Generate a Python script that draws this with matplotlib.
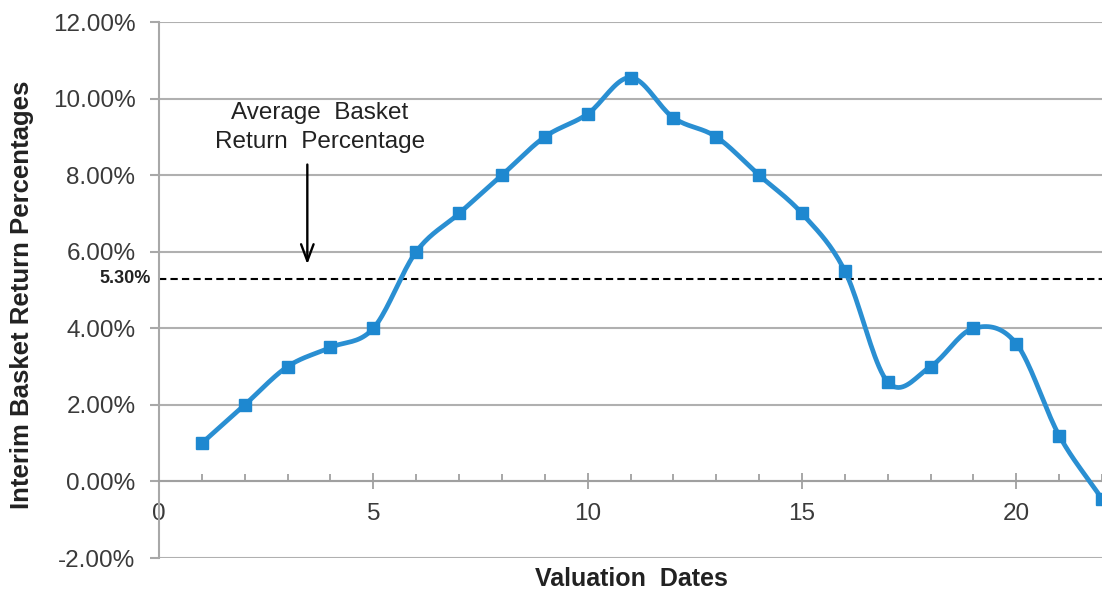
import numpy as np
import matplotlib
matplotlib.use("Agg")
import matplotlib.pyplot as plt
from matplotlib.ticker import FuncFormatter, MultipleLocator

plt.rcParams['font.family'] = ['Liberation Sans', 'DejaVu Sans']

dates = [1, 2, 3, 4, 5, 6, 7, 8, 9, 10, 11, 12, 13, 14, 15, 16, 17, 18, 19, 20, 21, 22]
returns = [1.0, 2.0, 3.0, 3.5, 4.0, 6.0, 7.0, 8.0, 9.0, 9.6, 10.55, 9.5, 9.0, 8.0,
           7.0, 5.5, 2.6, 3.0, 4.0, 3.6, 1.2, -0.45]
average = 5.30
y_ticks = [-2, 0, 2, 4, 6, 8, 10, 12]
x_ticks = [0, 5, 10, 15, 20]


def smooth(x, y, n=20):
    # Catmull-Rom style smoothing like a spreadsheet "smoothed line"
    x = np.asarray(x, float)
    y = np.asarray(y, float)
    px = np.concatenate([[2 * x[0] - x[1]], x, [2 * x[-1] - x[-2]]])
    py = np.concatenate([[2 * y[0] - y[1]], y, [2 * y[-1] - y[-2]]])
    xs, ys = [], []
    t = np.linspace(0, 1, n, endpoint=False)
    for i in range(1, len(px) - 2):
        p0, p1, p2, p3 = [np.array([px[j], py[j]]) for j in (i - 1, i, i + 1, i + 2)]
        m1 = (p2 - p0) / 6.0
        m2 = (p3 - p1) / 6.0
        b1 = p1 + m1
        b2 = p2 - m2
        for tt in t:
            pt = ((1 - tt) ** 3) * p1 + 3 * ((1 - tt) ** 2) * tt * b1 + 3 * (1 - tt) * tt ** 2 * b2 + tt ** 3 * p2
            xs.append(pt[0]); ys.append(pt[1])
    xs.append(x[-1]); ys.append(y[-1])
    return np.array(xs), np.array(ys)


fig = plt.figure(figsize=(11.02, 5.92), dpi=100)
ax = fig.add_axes([0.1443, 0.0574, 0.8557, 0.9054])

ax.set_xlim(0, 22)
ax.set_ylim(-2, 12)

for yv in y_ticks:
    ax.axhline(yv, color='#b0b0b0', lw=1.5, zorder=1)

ax.axhline(average, color='black', lw=1.5, ls=(0, (3.5, 2)), zorder=2)

sx, sy = smooth(dates, returns)
ax.plot(sx, sy, color='#2a8fd2', lw=3.4, zorder=3, solid_capstyle='round', clip_on=False)
ax.plot(dates, returns, ls='none', marker='s', ms=9, color='#1e88d0',
        zorder=4, clip_on=False)

for s in ['top', 'right']:
    ax.spines[s].set_visible(False)
ax.spines['left'].set_color('#a8a8a8')
ax.spines['left'].set_linewidth(1.5)
ax.spines['bottom'].set_position(('data', 0))
ax.spines['bottom'].set_color('#a0a0a0')
ax.spines['bottom'].set_linewidth(1.5)

ax.set_yticks(y_ticks)
ax.yaxis.set_major_formatter(FuncFormatter(lambda v, p: f"{v:.2f}%"))
ax.tick_params(axis='y', direction='out', length=6.5, width=1.5, color='#a8a8a8',
               labelsize=17.5, labelcolor='#3a3a3a', pad=10.5)

ax.set_xticks(x_ticks)
ax.xaxis.set_minor_locator(MultipleLocator(1))
ax.tick_params(axis='x', which='major', direction='inout', length=12, width=1.1,
               color='#909090', labelsize=17.5, labelcolor='#3a3a3a', pad=9.5)
ax.tick_params(axis='x', which='minor', direction='in', length=5, width=1.1,
               color='#909090')

ax.text(-0.2, average, f"{average:.2f}%", ha='right', va='center', fontsize=13,
        fontweight='bold', color='#222222', transform=ax.transData, clip_on=False)

ax.annotate('', xy=(3.46, 5.6), xytext=(3.46, 8.35),
            arrowprops=dict(arrowstyle='->,head_length=1.2,head_width=0.45', color='black', lw=1.7))
ax.text(3.75, 9.24, "Average  Basket\nReturn  Percentage", ha='center', va='center',
        fontsize=17.5, color='#222222', linespacing=1.38)

fig.text(0.5726, 0.022, "Valuation  Dates", ha='center', va='center', fontsize=18,
         fontweight='bold', color='#222222')
fig.text(0.0204, 0.502, "Interim Basket Return Percentages", ha='center', va='center',
         rotation=90, fontsize=18.5, fontweight='bold', color='#222222')

fig.savefig('out.png', dpi=100)
